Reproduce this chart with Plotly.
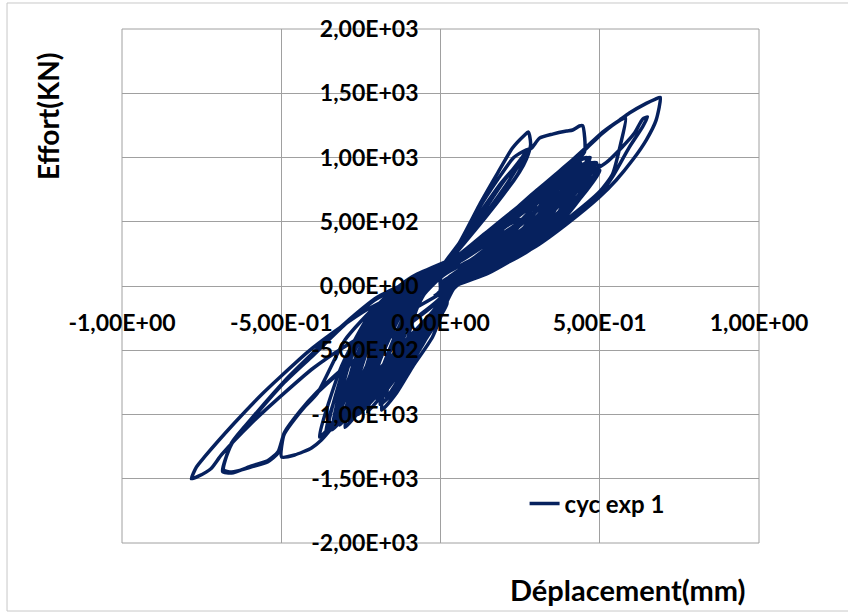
import plotly.graph_objects as go

# Tick positions and their labels (French decimal comma, Excel style)
x_tickvals = [-1.0, -0.5, 0.0, 0.5, 1.0]
x_ticktext = ["-1,00E+00", "-5,00E-01", "0,00E+00", "5,00E-01", "1,00E+00"]
y_tickvals = [-2000, -1500, -1000, -500, 0, 500, 1000, 1500, 2000]
y_ticktext = ["-2,00E+03", "-1,50E+03", "-1,00E+03", "-5,00E+02", "0,00E+00",
              "5,00E+02", "1,00E+03", "1,50E+03", "2,00E+03"]

# Hysteresis record, cycle by cycle: displacement (mm) and force (kN)
# small early cycles
cyc01_x = [-0.02, 0.05, 0.12, 0.18, 0.20, 0.15, 0.08, 0.02, -0.03, -0.07, -0.10, -0.12, -0.10, -0.06, -0.02, 0.02]
cyc01_y = [-80, 40, 160, 300, 420, 360, 230, 110, 20, -150, -380, -600, -560, -400, -220, -60]
cyc02_x = [-0.01, 0.06, 0.13, 0.20, 0.25, 0.19, 0.11, 0.04, -0.02, -0.06, -0.10, -0.13, -0.15, -0.12, -0.07, -0.02, 0.02]
cyc02_y = [-60, 60, 190, 340, 520, 440, 290, 150, 50, -100, -300, -520, -720, -660, -480, -260, -80]
cyc03_x = [0.00, 0.07, 0.14, 0.22, 0.28, 0.23, 0.15, 0.07, 0.00, -0.06, -0.13, -0.20, -0.27, -0.24, -0.17, -0.09, 0.00]
cyc03_y = [-40, 70, 200, 380, 600, 540, 380, 220, 90, -20, -200, -460, -850, -800, -620, -400, -110]
cyc04_x = [0.00, 0.08, 0.16, 0.25, 0.33, 0.27, 0.18, 0.09, 0.01, -0.05, -0.10, -0.16, -0.21, -0.18, -0.12, -0.05, 0.02]
cyc04_y = [-30, 90, 230, 420, 700, 620, 440, 260, 90, -60, -260, -520, -800, -740, -560, -320, -70]
cyc05_x = [0.00, 0.09, 0.18, 0.27, 0.35, 0.29, 0.20, 0.10, 0.01, -0.08, -0.16, -0.24, -0.31, -0.27, -0.19, -0.10, 0.00]
cyc05_y = [-60, 70, 230, 430, 720, 650, 480, 290, 110, -10, -180, -440, -900, -840, -640, -400, -120]
cyc06_x = [0.00, 0.10, 0.20, 0.27, 0.30, 0.25, 0.16, 0.07, 0.00, -0.06, -0.11, -0.15, -0.17, -0.15, -0.10, -0.04, 0.01]
cyc06_y = [-20, 120, 280, 450, 640, 560, 390, 230, 130, -40, -300, -600, -870, -800, -600, -360, -130]
cyc07_x = [0.03, 0.12, 0.22, 0.31, 0.36, 0.30, 0.21, 0.11, 0.02, -0.05, -0.11, -0.16, -0.185, -0.138, -0.088, -0.025, 0.018]
cyc07_y = [-10, 130, 290, 480, 760, 680, 500, 310, 150, -10, -280, -640, -965, -832, -630, -397, -132]
cyc08_x = [0.05, 0.15, 0.25, 0.34, 0.40, 0.33, 0.23, 0.12, 0.03, -0.06, -0.13, -0.19, -0.218, -0.19, -0.13, -0.06, 0.01]
cyc08_y = [10, 150, 310, 510, 830, 740, 530, 330, 160, 0, -250, -580, -848, -790, -610, -400, -150]
cyc09_x = [0.05, 0.15, 0.25, 0.35, 0.44, 0.37, 0.27, 0.16, 0.05, -0.07, -0.15, -0.21, -0.25, -0.22, -0.16, -0.08, 0.00]
cyc09_y = [10, 140, 290, 500, 900, 820, 620, 400, 200, 10, -230, -560, -930, -860, -660, -430, -160]
cyc10_x = [0.05, 0.15, 0.26, 0.37, 0.46, 0.39, 0.28, 0.16, 0.05, -0.08, -0.17, -0.24, -0.28, -0.25, -0.18, -0.09, 0.00]
cyc10_y = [10, 130, 300, 540, 950, 860, 650, 410, 200, 10, -220, -560, -990, -920, -700, -440, -150]
cyc11_x = [0.05, 0.16, 0.28, 0.39, 0.47, 0.40, 0.29, 0.17, 0.05, -0.09, -0.18, -0.26, -0.30, -0.27, -0.19, -0.10, 0.00]
cyc11_y = [0, 130, 320, 590, 965, 880, 670, 430, 210, 20, -200, -570, -1040, -960, -720, -450, -140]
cyc12_x = [0.04, 0.14, 0.26, 0.37, 0.45, 0.38, 0.27, 0.16, 0.05, -0.10, -0.19, -0.27, -0.317, -0.29, -0.21, -0.11, 0.00]
cyc12_y = [0, 110, 290, 530, 920, 830, 620, 400, 200, 10, -200, -580, -1081, -1000, -760, -470, -150]
cyc13_x = [0.04, 0.15, 0.28, 0.40, 0.48, 0.42, 0.31, 0.18, 0.06, -0.10, -0.20, -0.29, -0.34, -0.31, -0.23, -0.12, 0.00]
cyc13_y = [-10, 110, 300, 580, 930, 880, 700, 440, 220, 20, -190, -600, -1120, -1040, -800, -500, -160]
cyc14_x = [0.05, 0.13, 0.23, 0.33, 0.43, 0.36, 0.25, 0.14, 0.04, -0.07, -0.15, -0.22, -0.26, -0.23, -0.17, -0.08, 0.00]
cyc14_y = [20, 140, 300, 520, 960, 860, 610, 390, 190, 0, -260, -620, -1000, -930, -720, -440, -150]
cyc15_x = [0.04, 0.15, 0.28, 0.40, 0.49, 0.42, 0.30, 0.18, 0.06, -0.07, -0.14, -0.19, -0.22, -0.20, -0.14, -0.06, 0.00]
cyc15_y = [0, 110, 280, 560, 880, 840, 650, 420, 210, 20, -240, -560, -900, -850, -640, -380, -140]
cyc16_x = [0.03, 0.15, 0.28, 0.40, 0.50, 0.44, 0.33, 0.20, 0.07, -0.10, -0.21, -0.31, -0.38, -0.34, -0.25, -0.13, 0.00]
cyc16_y = [-20, 100, 290, 570, 900, 900, 720, 470, 230, 30, -180, -620, -1175, -1080, -830, -520, -170]
cyc17_x = [0.04, 0.14, 0.25, 0.36, 0.46, 0.40, 0.30, 0.19, 0.06, -0.09, -0.19, -0.28, -0.33, -0.30, -0.22, -0.11, 0.00]
cyc17_y = [0, 120, 290, 520, 1000, 940, 740, 500, 230, 40, -170, -560, -1060, -990, -760, -470, -150]
cyc18_x = [0.02, 0.12, 0.22, 0.31, 0.38, 0.32, 0.22, 0.12, 0.03, -0.05, -0.10, -0.16, -0.20, -0.18, -0.12, -0.05, 0.02]
cyc18_y = [30, 180, 360, 560, 800, 720, 520, 330, 170, 40, -180, -520, -880, -820, -620, -380, -100]
cyc19_x = [0.02, 0.12, 0.22, 0.32, 0.42, 0.35, 0.25, 0.14, 0.04, -0.06, -0.13, -0.19, -0.24, -0.21, -0.15, -0.07, 0.02]
cyc19_y = [40, 190, 370, 580, 870, 780, 590, 380, 190, 60, -150, -480, -950, -880, -680, -420, -110]
cyc20_x = [0.02, 0.12, 0.23, 0.34, 0.44, 0.37, 0.26, 0.15, 0.04, -0.07, -0.14, -0.21, -0.27, -0.24, -0.17, -0.08, 0.02]
cyc20_y = [50, 200, 390, 620, 940, 850, 640, 420, 200, 70, -130, -450, -1010, -930, -720, -450, -120]
cyc21_x = [0.00, 0.11, 0.22, 0.34, 0.46, 0.39, 0.28, 0.17, 0.05, -0.07, -0.15, -0.23, -0.30, -0.26, -0.18, -0.09, 0.01]
cyc21_y = [20, 170, 350, 570, 900, 820, 610, 400, 190, 50, -170, -500, -1000, -900, -690, -440, -120]
cyc22_x = [0.01, 0.12, 0.24, 0.35, 0.45, 0.38, 0.27, 0.16, 0.05, -0.06, -0.12, -0.18, -0.23, -0.20, -0.13, -0.06, 0.02]
cyc22_y = [0, 150, 340, 580, 860, 800, 600, 390, 180, 30, -260, -620, -980, -900, -680, -420, -120]
cyc23_x = [0.01, 0.12, 0.25, 0.37, 0.48, 0.41, 0.30, 0.18, 0.06, -0.09, -0.19, -0.28, -0.36, -0.32, -0.24, -0.12, 0.01]
cyc23_y = [10, 160, 360, 620, 960, 900, 700, 450, 220, 60, -150, -520, -1140, -1060, -820, -500, -140]
cyc24_x = [0.00, 0.10, 0.20, 0.31, 0.41, 0.35, 0.25, 0.15, 0.05, -0.06, -0.13, -0.20, -0.26, -0.23, -0.16, -0.08, 0.01]
cyc24_y = [60, 210, 400, 610, 900, 820, 630, 430, 230, 90, -120, -440, -900, -850, -650, -410, -110]
cyc25_x = [0.01, 0.13, 0.26, 0.38, 0.47, 0.40, 0.29, 0.18, 0.05, -0.08, -0.17, -0.25, -0.32, -0.28, -0.20, -0.10, 0.01]
cyc25_y = [-10, 130, 320, 600, 900, 850, 650, 420, 200, 40, -180, -540, -1020, -950, -740, -470, -140]
cyc26_x = [0.02, 0.12, 0.23, 0.34, 0.43, 0.36, 0.26, 0.15, 0.04, -0.05, -0.10, -0.15, -0.19, -0.16, -0.11, -0.05, 0.02]
cyc26_y = [20, 160, 340, 570, 880, 800, 600, 390, 190, 40, -260, -600, -920, -860, -680, -430, -140]
cyc27_x = [0.02, 0.11, 0.21, 0.31, 0.39, 0.33, 0.24, 0.14, 0.04, -0.07, -0.15, -0.23, -0.29, -0.26, -0.19, -0.09, 0.01]
cyc27_y = [50, 200, 390, 600, 850, 780, 600, 410, 210, 80, -140, -460, -960, -900, -700, -430, -120]
cyc28_x = [0.00, 0.13, 0.27, 0.39, 0.50, 0.43, 0.32, 0.19, 0.06, -0.09, -0.19, -0.28, -0.35, -0.31, -0.22, -0.11, 0.01]
cyc28_y = [-30, 110, 310, 580, 940, 910, 740, 480, 240, 70, -130, -480, -1080, -1010, -780, -480, -150]
cyc29_x = [0.02, 0.12, 0.24, 0.35, 0.44, 0.38, 0.28, 0.17, 0.05, -0.06, -0.12, -0.18, -0.22, -0.19, -0.13, -0.06, 0.01]
cyc29_y = [20, 170, 370, 620, 960, 880, 680, 440, 220, 60, -160, -500, -870, -800, -600, -360, -90]
cyc30_x = [0.00, 0.12, 0.25, 0.37, 0.47, 0.41, 0.31, 0.20, 0.07, -0.07, -0.16, -0.24, -0.30, -0.27, -0.19, -0.10, 0.00]
cyc30_y = [-20, 140, 350, 630, 1000, 950, 760, 520, 260, 70, -120, -480, -1100, -1020, -780, -490, -140]
cyc31_x = [0.01, 0.11, 0.22, 0.33, 0.42, 0.36, 0.27, 0.17, 0.06, -0.05, -0.12, -0.19, -0.24, -0.21, -0.15, -0.08, 0.01]
cyc31_y = [0, 150, 330, 560, 900, 830, 660, 450, 240, 70, -120, -460, -900, -840, -660, -420, -110]
cyc32_x = [0.00, 0.13, 0.27, 0.39, 0.49, 0.43, 0.32, 0.20, 0.07, -0.08, -0.17, -0.23, -0.28, -0.25, -0.18, -0.09, 0.00]
cyc32_y = [-40, 120, 340, 620, 960, 930, 750, 500, 250, 50, -150, -500, -940, -880, -680, -420, -120]

# stiff cycles rising steeply on the positive side
cyc33_x = [0.00, 0.06, 0.13, 0.19, 0.24, 0.262, 0.245, 0.20, 0.14, 0.08, 0.01, -0.08, -0.16, -0.22, -0.26, -0.24, -0.17, -0.08, 0.00]
cyc33_y = [120, 330, 590, 800, 940, 990, 880, 720, 530, 350, 150, -10, -300, -640, -960, -900, -700, -430, -150]
cyc34_x = [0.00, 0.07, 0.14, 0.20, 0.25, 0.27, 0.25, 0.21, 0.15, 0.09, 0.02, -0.07, -0.14, -0.20, -0.23, -0.21, -0.15, -0.07, 0.00]
cyc34_y = [110, 330, 600, 820, 980, 1050, 960, 800, 590, 390, 170, 0, -280, -600, -920, -880, -680, -420, -150]
cyc35_x = [0.00, 0.06, 0.122, 0.176, 0.226, 0.262, 0.276, 0.283, 0.270, 0.248, 0.195, 0.132, 0.07, 0.00, -0.09, -0.18, -0.25, -0.30, -0.27, -0.19, -0.10, 0.00]
cyc35_y = [125, 340, 630, 864, 1074, 1170, 1198, 1100, 990, 887, 708, 552, 340, 140, 0, -250, -620, -1050, -990, -750, -460, -160]

# large cycles
cyc36_x = [0.00, 0.06, 0.12, 0.18, 0.23, 0.27, 0.286, 0.311, 0.352, 0.396, 0.415, 0.436, 0.446, 0.452, 0.40, 0.311, 0.248, 0.148, 0.06, 0.00,
           -0.10, -0.20, -0.30, -0.386, -0.436, -0.49, -0.499, -0.458, -0.405, -0.374, -0.34, -0.28, -0.20, -0.10, 0.00]
cyc36_y = [120, 320, 600, 830, 1000, 1060, 1074, 1151, 1182, 1206, 1214, 1245, 1248, 1042, 920, 740, 550, 355, 200, 125,
           20, -150, -420, -832, -965, -1144, -1330, -1315, -1260, -1198, -1100, -900, -680, -420, -150]
cyc37_x = [0.00, 0.10, 0.20, 0.30, 0.40, 0.50, 0.54, 0.565, 0.581, 0.56, 0.509, 0.458, 0.40, 0.311, 0.248, 0.148, 0.06, 0.00,
           -0.10, -0.20, -0.30, -0.40, -0.49, -0.593, -0.656, -0.681, -0.656, -0.593, -0.543, -0.51, -0.49, -0.44, -0.39, -0.30, -0.20, -0.10, 0.00]
cyc37_y = [-40, 85, 205, 345, 525, 735, 870, 1100, 1307, 1285, 1190, 1070, 930, 740, 555, 355, 200, 128,
           30, -90, -290, -520, -740, -1030, -1221, -1431, -1447, -1408, -1369, -1300, -1150, -980, -840, -640, -470, -300, -100]
cyc38_x = [0.00, 0.10, 0.20, 0.30, 0.40, 0.50, 0.54, 0.593, 0.634, 0.65, 0.635, 0.609, 0.57, 0.52, 0.46, 0.40, 0.311, 0.248, 0.148, 0.06, 0.00,
           -0.10, -0.20, -0.30, -0.40, -0.49, -0.593, -0.656, -0.684, -0.656, -0.593, -0.543, -0.51, -0.49, -0.44, -0.39, -0.30, -0.20, -0.10, 0.00]
cyc38_y = [-45, 75, 190, 325, 505, 715, 850, 1081, 1237, 1315, 1300, 1190, 1080, 960, 870, 800, 660, 500, 330, 190, 120,
           25, -100, -300, -540, -750, -1040, -1230, -1445, -1455, -1400, -1360, -1290, -1140, -970, -830, -630, -460, -290, -90]
cyc39_x = [0.00, 0.10, 0.20, 0.30, 0.40, 0.50, 0.552, 0.603, 0.646, 0.677, 0.69, 0.675, 0.646, 0.593, 0.562, 0.509, 0.458, 0.40, 0.311, 0.248, 0.148, 0.06, 0.00,
           -0.045, -0.129, -0.233, -0.339, -0.42, -0.50, -0.56, -0.647, -0.741, -0.766, -0.782, -0.76, -0.72, -0.688, -0.593, -0.49, -0.40, -0.30, -0.20, -0.10, 0.00]
cyc39_y = [-50, 70, 180, 310, 490, 695, 825, 980, 1136, 1291, 1468, 1455, 1421, 1346, 1291, 1198, 1081, 950, 760, 570, 360, 205, 130,
           47, -54, -187, -366, -520, -700, -840, -1066, -1330, -1408, -1500, -1480, -1420, -1315, -1066, -832, -640, -470, -330, -200, -60]

cycles = [
    (cyc01_x, cyc01_y), (cyc02_x, cyc02_y), (cyc03_x, cyc03_y), (cyc04_x, cyc04_y),
    (cyc05_x, cyc05_y), (cyc06_x, cyc06_y), (cyc07_x, cyc07_y), (cyc08_x, cyc08_y),
    (cyc09_x, cyc09_y), (cyc10_x, cyc10_y), (cyc11_x, cyc11_y), (cyc12_x, cyc12_y),
    (cyc13_x, cyc13_y), (cyc14_x, cyc14_y), (cyc15_x, cyc15_y), (cyc16_x, cyc16_y),
    (cyc17_x, cyc17_y), (cyc18_x, cyc18_y), (cyc19_x, cyc19_y), (cyc20_x, cyc20_y),
    (cyc21_x, cyc21_y), (cyc22_x, cyc22_y), (cyc23_x, cyc23_y), (cyc24_x, cyc24_y),
    (cyc25_x, cyc25_y), (cyc26_x, cyc26_y), (cyc27_x, cyc27_y), (cyc28_x, cyc28_y),
    (cyc29_x, cyc29_y), (cyc30_x, cyc30_y), (cyc31_x, cyc31_y), (cyc32_x, cyc32_y),
    (cyc33_x, cyc33_y), (cyc34_x, cyc34_y), (cyc35_x, cyc35_y), (cyc36_x, cyc36_y),
    (cyc37_x, cyc37_y), (cyc38_x, cyc38_y), (cyc39_x, cyc39_y),
]
disp = [v for cx, _ in cycles for v in cx]
force = [v for _, cy in cycles for v in cy]

FONT = "Lato"
GRID = "#a0a0a0"
LINE = "#06215e"
TICK_FONT = dict(family=FONT, size=23, weight="bold", color="black")

fig = go.Figure()
fig.add_trace(go.Scatter(
    x=disp, y=force, mode="lines", name="cyc exp 1",
    line=dict(color=LINE, width=3.5, shape="spline", smoothing=0.6),
    hoverinfo="skip",
))

fig.update_layout(
    width=848, height=612,
    margin=dict(l=122, r=89, t=29, b=69),
    paper_bgcolor="white", plot_bgcolor="white",
    font=dict(family=FONT, color="black"),
    showlegend=True,
    legend=dict(
        x=0.632, y=0.076, xanchor="left", yanchor="middle",
        bgcolor="rgba(0,0,0,0)", borderwidth=0,
        font=dict(family=FONT, size=24, weight="bold", color="black"),
    ),
    xaxis=dict(
        range=[-1, 1], tickvals=x_tickvals, ticktext=x_ticktext,
        anchor="free", position=0.5,
        showgrid=True, gridcolor=GRID, gridwidth=1,
        zeroline=True, zerolinecolor=GRID, zerolinewidth=1,
        showline=False, ticks="", ticklabelstandoff=21,
        tickfont=TICK_FONT, fixedrange=True,
    ),
    yaxis=dict(
        range=[-2000, 2000], tickvals=y_tickvals, ticktext=y_ticktext,
        anchor="free", position=0.5,
        showgrid=True, gridcolor=GRID, gridwidth=1,
        zeroline=True, zerolinecolor=GRID, zerolinewidth=1,
        showline=False, ticks="", ticklabelstandoff=22,
        tickfont=TICK_FONT, fixedrange=True,
    ),
    shapes=[
        # plot-area frame
        dict(type="rect", xref="paper", yref="paper", x0=0, x1=1, y0=0, y1=1,
             line=dict(color=GRID, width=1), layer="below"),
        # chart-area border
        dict(type="rect", xref="paper", yref="paper", x0=-0.1805, x1=1.2, y0=-0.1323, y1=1.0506,
             line=dict(color="#c8c8c8", width=1), layer="below"),
    ],
    annotations=[
        dict(text="Effort(KN)", xref="paper", yref="paper", x=-0.116, y=0.829,
             textangle=-90, showarrow=False, xanchor="center", yanchor="middle",
             font=dict(family=FONT, size=28, weight="bold", color="black")),
        dict(text="Déplacement(mm)", xref="paper", yref="paper", x=0.795, y=-0.0914,
             showarrow=False, xanchor="center", yanchor="middle",
             font=dict(family=FONT, size=29, weight="bold", color="black")),
    ],
)

fig.write_html("out.html")
